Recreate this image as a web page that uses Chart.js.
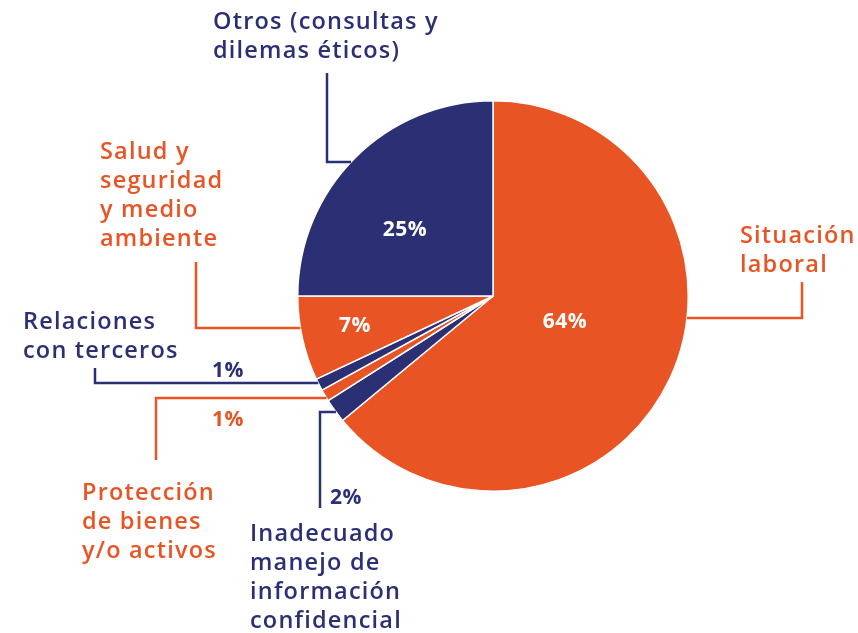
<!DOCTYPE html>
<html>
<head>
<meta charset="utf-8">
<script src="https://cdn.jsdelivr.net/npm/chart.js@4.4.0/dist/chart.umd.min.js"></script>
<style>
  html, body { margin: 0; padding: 0; background: #fff; }
  #wrap { width: 858px; height: 633px; position: relative; }
</style>
</head>
<body>
<div id="wrap"><canvas id="pieChart"></canvas></div>
<script>
// Datos del gráfico
const categories = [
  'Situación laboral',
  'Inadecuado manejo de información confidencial',
  'Protección de bienes y/o activos',
  'Relaciones con terceros',
  'Salud y seguridad y medio ambiente',
  'Otros (consultas y dilemas éticos)'
];
const values = [64, 2, 1, 1, 7, 25];
const valueLabels = ['64%', '2%', '1%', '1%', '7%', '25%'];
const labelLines = [
  ['Situación', 'laboral'],
  ['Inadecuado', 'manejo de', 'información', 'confidencial'],
  ['Protección', 'de bienes', 'y/o activos'],
  ['Relaciones', 'con terceros'],
  ['Salud y', 'seguridad', 'y medio', 'ambiente'],
  ['Otros (consultas y', 'dilemas éticos)']
];

const ORANGE = '#E95424';
const NAVY = '#2B2F73';
const colors = [ORANGE, NAVY, ORANGE, NAVY, ORANGE, NAVY];

const FONT = '600 23.5px "Open Sans", "Noto Sans", sans-serif';
const LINE_H = 29;

// Posiciones de las etiquetas (layout): texto, codo de la línea guía y porcentaje
const layoutCfg = [
  { tx: 740, ty: 236, side: 1, lineY: 318, elbowX: 802, endY: 282, px: 565, py: 322, pin: true },
  { tx: 250, ty: 534, side: -1, lineY: 412, elbowX: 320, endY: 508, px: 346, py: 498, pin: false },
  { tx: 82, ty: 493, side: -1, lineY: 398, elbowX: 156, endY: 460, px: 228, py: 420, pin: false },
  { tx: 23, ty: 322, side: -1, lineY: 383, elbowX: 95, endY: 368, px: 228, py: 371, pin: false },
  { tx: 100, ty: 152, side: -1, lineY: 328, elbowX: 196, endY: 262, px: 355, py: 326, pin: true },
  { tx: 213, ty: 22, side: -1, lineY: 162, elbowX: 327, endY: 73, px: 405, py: 230, pin: true }
];

const labelPlugin = {
  id: 'pieLabels',
  afterDraw(chart) {
    const c = chart.ctx;
    const meta = chart.getDatasetMeta(0);
    c.save();
    meta.data.forEach((arc, i) => {
      const cfg = layoutCfg[i];
      const cx = arc.x, cy = arc.y, r = arc.outerRadius;
      const col = colors[i];
      // Línea guía: desde el borde del círculo, horizontal y luego vertical
      const dy = cfg.lineY - cy;
      const startX = cx + cfg.side * Math.sqrt(Math.max(r * r - dy * dy, 0));
      c.strokeStyle = col;
      c.lineWidth = 2.5;
      c.beginPath();
      c.moveTo(startX, cfg.lineY);
      c.lineTo(cfg.elbowX, cfg.lineY);
      c.lineTo(cfg.elbowX, cfg.endY);
      c.stroke();

      // Texto de la categoría
      c.font = FONT;
      c.letterSpacing = '1.2px';
      c.fillStyle = col;
      c.textAlign = 'left';
      c.textBaseline = 'middle';
      labelLines[i].forEach((ln, k) => c.fillText(ln, cfg.tx, cfg.ty + k * LINE_H));

      // Porcentaje
      c.font = '700 21px "Open Sans", "Noto Sans", sans-serif';
      c.letterSpacing = '0.5px';
      c.fillStyle = cfg.pin ? '#ffffff' : col;
      c.textAlign = 'center';
      c.fillText(valueLabels[i], cfg.px, cfg.py);
    });
    c.restore();
  }
};

const ctx = document.getElementById('pieChart').getContext('2d');
new Chart(ctx, {
  type: 'pie',
  data: {
    labels: categories,
    datasets: [{
      data: values,
      backgroundColor: colors,
      borderColor: '#ffffff',
      borderWidth: 1.5
    }]
  },
  options: {
    responsive: true,
    maintainAspectRatio: false,
    animation: false,
    layout: { padding: { top: 100, bottom: 141, left: 297, right: 169 } },
    plugins: {
      legend: { display: false },
      tooltip: { enabled: false }
    }
  },
  plugins: [labelPlugin]
});
</script>
</body>
</html>
